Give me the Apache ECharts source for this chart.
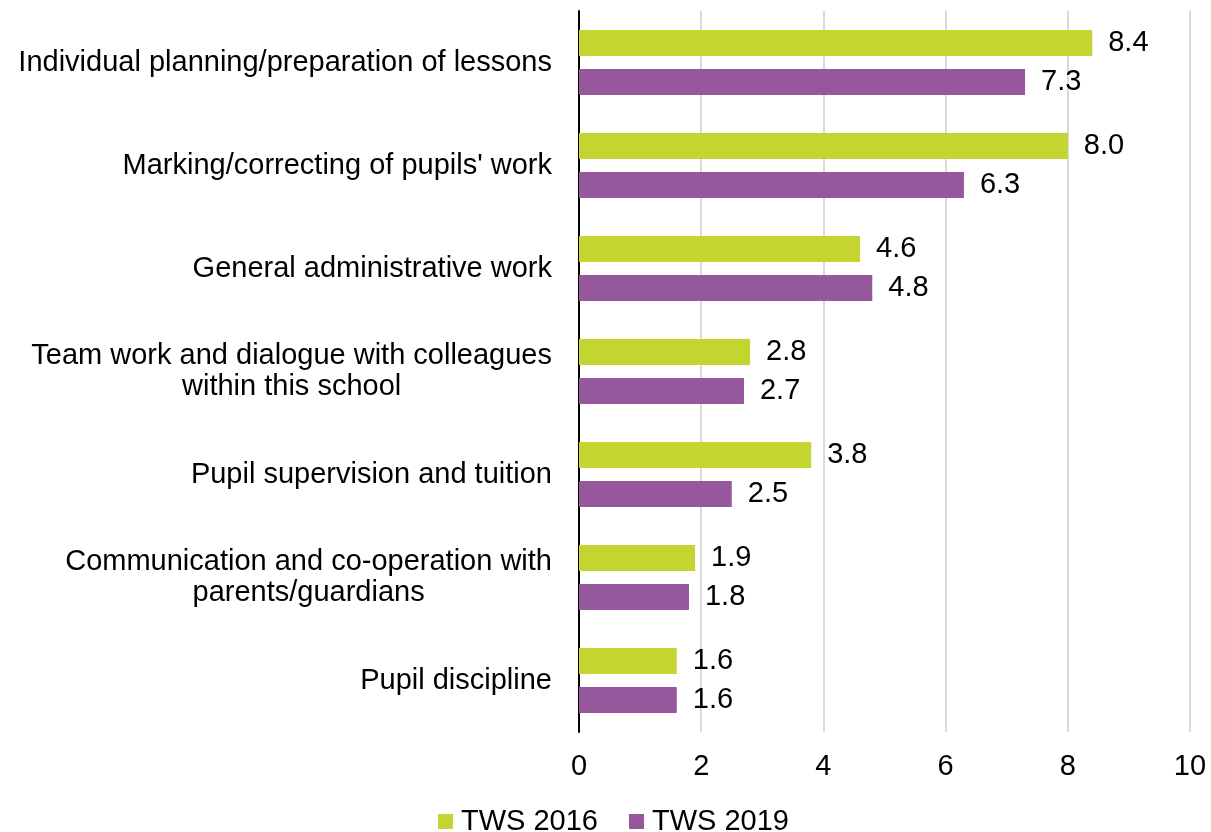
<!DOCTYPE html>
<html><head><meta charset="utf-8">
<script src="https://cdn.jsdelivr.net/npm/echarts@6/dist/echarts.min.js"></script>
<style>html,body{margin:0;padding:0;background:#fff}#c{width:1211px;height:832px}</style>
</head><body><div id="c"></div>
<script>
const categories = [
  "Individual planning/preparation of lessons",
  "Marking/correcting of pupils' work",
  "General administrative work",
  "Team work and dialogue with colleagues\nwithin this school",
  "Pupil supervision and tuition",
  "Communication and co-operation with\nparents/guardians",
  "Pupil discipline"
];
const tws2016 = [8.4, 8.0, 4.6, 2.8, 3.8, 1.9, 1.6];
const tws2019 = [7.3, 6.3, 4.8, 2.7, 2.5, 1.8, 1.6];
const xTicks = [0, 2, 4, 6, 8, 10];

const font = 'Liberation Sans, Arial, sans-serif';
const FS = 29;
const chart = echarts.init(document.getElementById('c'));
const lbl = {show: true, position: 'right', distance: 16, color: '#000', fontSize: FS, fontFamily: font,
  formatter: p => p.value.toFixed(1)};
chart.setOption({
  animation: false,
  grid: {left: 579, right: 21, top: 11, bottom: 100, containLabel: false},
  legend: {bottom: -9, left: 433, itemWidth: 15, itemHeight: 15, itemGap: 31, icon: 'rect',
    textStyle: {fontSize: FS, fontFamily: font, color: '#000', padding: [0, 0, 0, 3]}, data: ['TWS 2016', 'TWS 2019']},
  xAxis: {type: 'value', min: xTicks[0], max: xTicks[xTicks.length-1], interval: 2,
    axisLine: {show: false}, axisTick: {show: false},
    splitLine: {lineStyle: {color: '#d9d9d9', width: 2}},
    axisLabel: {fontSize: FS, fontFamily: font, color: '#000', margin: 20}},
  yAxis: {type: 'category', data: categories, inverse: true,
    axisLine: {lineStyle: {color: '#000', width: 2}}, axisTick: {show: false},
    axisLabel: {fontSize: FS, fontFamily: font, color: '#000', margin: 27, lineHeight: 31,
      formatter: v => v.split('\n').map(s => '{c|' + s + '}').join('\n'),
      rich: {c: {align: 'center', fontSize: FS, fontFamily: font, color: '#000', lineHeight: 31}}}},
  series: [
    {name: 'TWS 2016', type: 'bar', data: tws2016, barWidth: 26, barGap: '50%', itemStyle: {color: '#c4d531'}, label: lbl},
    {name: 'TWS 2019', type: 'bar', data: tws2019, barWidth: 26, barGap: '50%', itemStyle: {color: '#96579d'}, label: lbl}
  ]
});
</script></body></html>
